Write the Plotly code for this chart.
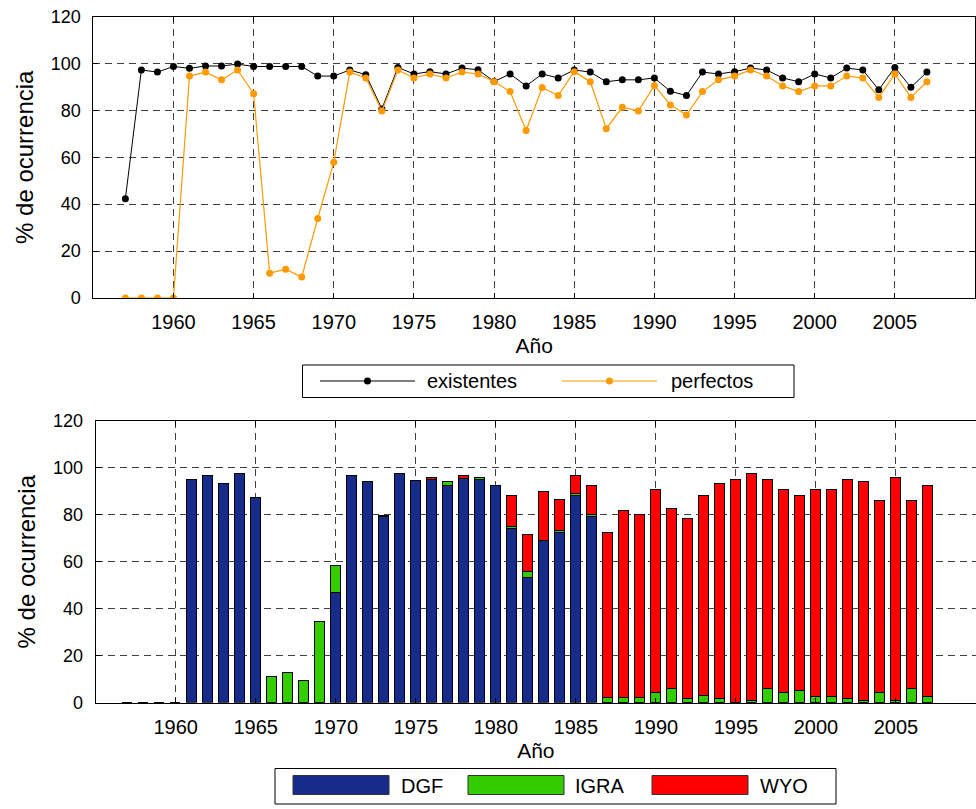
import plotly.graph_objects as go

# ---- data -----------------------------------------------------------------
years = list(range(1957, 2008))

existentes = [42.3, 97.2, 96.3, 98.7, 97.9, 98.9, 98.9, 99.7, 98.7, 98.7,
              98.7, 98.7, 94.6, 94.6, 97.2, 95.2, 80.6, 98.3, 95.5, 96.5,
              95.5, 98.0, 97.3, 92.3, 95.5, 90.4, 95.5, 93.8, 97.2, 96.3,
              92.2, 93.0, 93.0, 93.8, 88.1, 86.3, 96.3, 95.5, 96.5, 98.0,
              97.2, 93.8, 92.2, 95.5, 93.8, 98.0, 97.2, 88.8, 98.3, 89.8,
              96.3]

perfectos = [0, 0, 0, 0, 94.6, 96.3, 93.0, 97.2, 87.1, 10.6,
             12.3, 8.9, 33.9, 57.9, 96.3, 93.8, 79.7, 97.2, 93.8, 95.5,
             93.8, 96.3, 95.5, 92.2, 88.0, 71.4, 89.7, 86.3, 96.5, 92.2,
             72.2, 81.3, 79.7, 90.6, 82.3, 78.0, 88.0, 93.0, 94.6, 97.2,
             94.6, 90.4, 88.0, 90.4, 90.4, 94.6, 93.8, 85.5, 95.5, 85.5,
             92.2]

dgf = [0, 0, 0, 0, 94.8, 96.6, 93.4, 97.4, 87.4, 0,
       0, 0, 0, 46.8, 96.6, 94.0, 79.0, 97.6, 94.3, 94.8,
       92.4, 95.5, 94.8, 92.5, 73.9, 53.4, 69.1, 72.3, 88.2, 79.1,
       0, 0, 0, 0, 0, 0, 0, 0, 0, 0,
       0, 0, 0, 0, 0, 0, 0, 0, 0, 0,
       0]

igra = [0, 0, 0, 0, 0, 0, 0, 0, 0, 11.1,
        12.6, 9.2, 34.3, 11.5, 0, 0, 0, 0, 0, 0,
        1.6, 0, 0.9, 0, 1.0, 2.3, 0, 1.0, 0.8, 0.9,
        2.0, 2.0, 2.0, 4.4, 6.1, 1.7, 2.9, 1.7, 0, 1.0,
        6.0, 4.3, 5.1, 2.7, 2.7, 1.7, 1.0, 4.3, 1.0, 6.0,
        2.7]

wyo = [0, 0, 0, 0, 0, 0, 0, 0, 0, 0,
       0, 0, 0, 0, 0, 0, 0.7, 0, 0, 0.9,
       0, 1.0, 0, 0, 13.3, 16.0, 20.9, 13.2, 7.5, 12.3,
       70.3, 79.6, 77.9, 86.2, 76.3, 76.6, 85.3, 91.7, 94.9, 96.3,
       88.9, 86.3, 83.1, 87.9, 87.9, 93.2, 93.0, 81.5, 94.7, 79.8,
       89.6]

year_ticks = [1960, 1965, 1970, 1975, 1980, 1985, 1990, 1995, 2000, 2005]
pct_ticks = [0, 20, 40, 60, 80, 100, 120]

# ---- styling ----------------------------------------------------------------
W, H = 976, 809
FONT = "Liberation Sans, Arial, sans-serif"
BLACK_C = "#000000"
ORANGE_C = "#FF9900"
DGF_C = "#162B8A"
IGRA_C = "#33CC00"
WYO_C = "#FF0000"


def px(x):
    return x / W


def py(y):
    return 1 - y / H


fig = go.Figure()

# top panel: occurrence lines
fig.add_trace(go.Scatter(
    x=years, y=existentes, mode="lines+markers", name="existentes",
    line=dict(color=BLACK_C, width=1), marker=dict(color=BLACK_C, size=7),
    xaxis="x", yaxis="y", showlegend=False))
fig.add_trace(go.Scatter(
    x=years, y=perfectos, mode="lines+markers", name="perfectos",
    line=dict(color=ORANGE_C, width=1.2), marker=dict(color=ORANGE_C, size=7),
    xaxis="x", yaxis="y", showlegend=False))

# bottom panel: stacked bars by source
for name, vals, col in (("DGF", dgf, DGF_C), ("IGRA", igra, IGRA_C), ("WYO", wyo, WYO_C)):
    fig.add_trace(go.Bar(
        x=years, y=vals, name=name, width=0.6,
        marker=dict(color=col, line=dict(color="#000000", width=1)),
        xaxis="x2", yaxis="y2", showlegend=False))

grid = dict(showgrid=True, gridcolor="#404040", gridwidth=1, griddash="7px,5px",
            showline=True, linecolor="#000000", linewidth=1,
            ticks="inside", ticklen=5, tickcolor="#000000",
            zeroline=False, automargin=False)

xcommon = dict(range=[1955, 2010], tickvals=year_ticks, ticklabelstandoff=6,
               tickfont=dict(family=FONT, size=20, color="#000000"),
               title=dict(text="Año", font=dict(family=FONT, size=21, color="#000000"),
                          standoff=6),
               **grid)
ycommon = dict(range=[0, 120], tickvals=pct_ticks, ticklabelstandoff=8,
               tickfont=dict(family=FONT, size=18, color="#000000"),
               title=dict(text="% de ocurrencia",
                          font=dict(family=FONT, size=24, color="#000000"),
                          standoff=10),
               **grid)

fig.update_layout(
    width=W, height=H,
    margin=dict(l=0, r=0, t=0, b=0, autoexpand=False),
    paper_bgcolor="white", plot_bgcolor="white",
    barmode="stack", bargap=0,
    font=dict(family=FONT, color="#000000"),
    xaxis=dict(domain=[px(93.3), px(975)], anchor="y", mirror="ticks", **xcommon),
    yaxis=dict(domain=[py(298), py(16.5)], anchor="x", mirror="ticks", **ycommon),
    xaxis2=dict(domain=[px(95.7), 1.0], anchor="y2", mirror="ticks", **xcommon),
    yaxis2=dict(domain=[py(702.7), py(420.7)], anchor="x2", mirror=False, **ycommon),
)

# ---- legend boxes -----------------------------------------------------------
shapes = []
annos = []

# top legend: line samples
shapes.append(dict(type="rect", xref="paper", yref="paper",
                   x0=px(302.5), x1=px(794), y0=py(397.5), y1=py(365),
                   line=dict(color="#000000", width=1), fillcolor="white"))
for (lx0, lx1, text_x, label, col) in ((320, 415, 425, "existentes", BLACK_C),
                                       (562, 657, 669, "perfectos", ORANGE_C)):
    cy = 381
    shapes.append(dict(type="line", xref="paper", yref="paper",
                       x0=px(lx0), x1=px(lx1), y0=py(cy), y1=py(cy),
                       line=dict(color=col, width=1.2)))
    mx = (lx0 + lx1) / 2
    shapes.append(dict(type="circle", xref="paper", yref="paper",
                       x0=px(mx - 3.5), x1=px(mx + 3.5), y0=py(cy + 3.5), y1=py(cy - 3.5),
                       line=dict(color=col, width=0), fillcolor=col))
    annos.append(dict(text=label, xref="paper", yref="paper",
                      x=px(text_x), y=py(cy), xanchor="left", yanchor="middle",
                      showarrow=False, font=dict(family=FONT, size=20, color="#000000")))

# bottom legend: colour swatches
shapes.append(dict(type="rect", xref="paper", yref="paper",
                   x0=px(275), x1=px(836), y0=py(804), y1=py(768.5),
                   line=dict(color="#000000", width=1), fillcolor="white"))
for (sx0, sx1, text_x, label, col) in ((293, 389, 399, "DGF", DGF_C),
                                       (468, 564, 573, "IGRA", IGRA_C),
                                       (652, 748, 758, "WYO", WYO_C)):
    shapes.append(dict(type="rect", xref="paper", yref="paper",
                       x0=px(sx0), x1=px(sx1), y0=py(794.5), y1=py(775.5),
                       line=dict(color="#333333", width=1), fillcolor=col))
    annos.append(dict(text=label, xref="paper", yref="paper",
                      x=px(text_x), y=py(785.5), xanchor="left", yanchor="middle",
                      showarrow=False, font=dict(family=FONT, size=20, color="#000000")))

fig.update_layout(shapes=shapes, annotations=annos)

fig.write_html("out.html")
